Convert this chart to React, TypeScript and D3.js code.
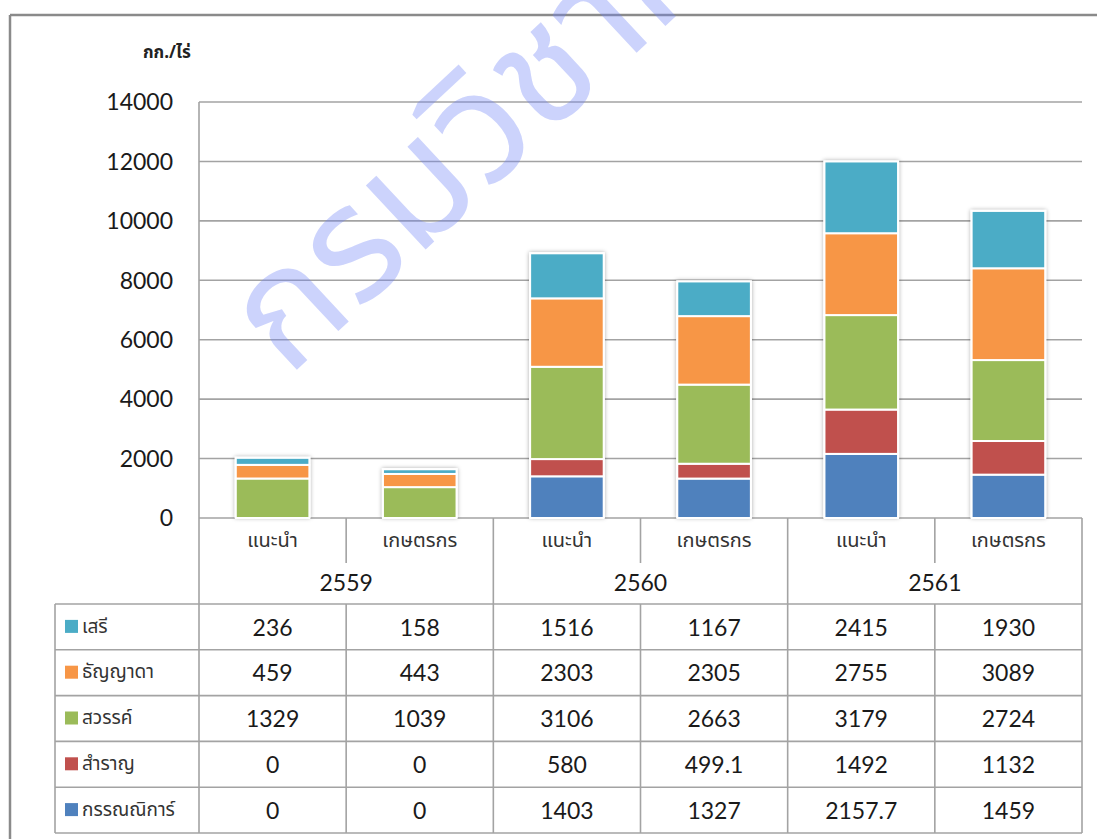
import React from "react";
import * as d3 from "d3";

const years = ["2559", "2560", "2561"];
const subLabels = ["แนะนำ", "เกษตรกร", "แนะนำ", "เกษตรกร", "แนะนำ", "เกษตรกร"];
// stacking order bottom -> top
const seriesNames = ["กรรณณิการ์", "สำราญ", "สวรรค์", "ธัญญาดา", "เสรี"];
const seriesColors = ["#4f81bd", "#c0504d", "#9bbb59", "#f79646", "#4bacc6"];
const kannikaValues = ["0", "0", "1403", "1327", "2157.7", "1459"];
const samranValues = ["0", "0", "580", "499.1", "1492", "1132"];
const sawanValues = ["1329", "1039", "3106", "2663", "3179", "2724"];
const thanyadaValues = ["459", "443", "2303", "2305", "2755", "3089"];
const seriValues = ["236", "158", "1516", "1167", "2415", "1930"];
const yTicks = [0, 2000, 4000, 6000, 8000, 10000, 12000, 14000];
const unitLabel = "กก./ไร่";
const watermark = "กรมวิชาการเกษตร";

const seriesValues = [kannikaValues, samranValues, sawanValues, thanyadaValues, seriValues];

const W = 1097;
const H = 839;
const plotL = 199;
const plotR = 1082;
const plotT = 102;
const plotB = 518;
const tableL = 55;
const row1B = 563;
const catB = 604;
const rowH = 45.8;

const NUM_FONT = "Lato, 'Open Sans', sans-serif";
const THAI_FONT = "Tahoma, 'Noto Sans Thai', 'Leelawadee UI', sans-serif";

export default function App() {
  const y = d3.scaleLinear().domain([0, 14000]).range([plotB, plotT]);
  const x = d3
    .scaleBand<number>()
    .domain(d3.range(subLabels.length))
    .range([plotL, plotR])
    .paddingInner(0.5)
    .paddingOuter(0.25);
  const step = x.step();

  const rows = subLabels.map((_, i) => {
    const o: any = { i };
    seriesNames.forEach((s, k) => (o[s] = +seriesValues[k][i]));
    return o;
  });
  const stack = d3.stack<any>().keys(seriesNames)(rows);
  const totals = rows.map((r) => d3.sum(seriesNames, (s) => r[s]));

  const gridColor = "#a3a3a3";
  const colEdges = d3.range(subLabels.length + 1).map((i) => plotL + i * step);
  const tableRows = seriesNames.slice().reverse();

  return (
    <div style={{ position: "absolute", left: 0, top: 0 }}>
      <svg width={W} height={H} style={{ display: "block", background: "#fff" }}>
        <defs>
          <filter id="shadow" x="-30%" y="-10%" width="160%" height="120%">
            <feDropShadow dx="0" dy="0" stdDeviation="2.2" floodColor="#000" floodOpacity="0.35" />
          </filter>
          <clipPath id="page">
            <rect x={0} y={0} width={W} height={H} />
          </clipPath>
        </defs>
        {/* frame */}
        <line x1={10} x2={W} y1={15} y2={15} stroke="#8a8a8a" strokeWidth={2.5} />
        <line x1={10} x2={10} y1={15} y2={H} stroke="#8a8a8a" strokeWidth={2.5} />

        {/* unit label */}
        <text x={143} y={58} fontFamily={THAI_FONT} fontWeight="bold" fontSize={17} fill="#222">
          {unitLabel}
        </text>

        {/* gridlines */}
        {yTicks.map((t) => (
          <g key={t}>
            <line x1={plotL} x2={plotR} y1={y(t)} y2={y(t)} stroke={gridColor} strokeWidth={1.6} />
            <text
              x={173}
              y={y(t)}
              dy="0.36em"
              textAnchor="end"
              fontFamily={NUM_FONT}
              fontSize={23}
              fill="#1a1a1a"
            >
              {t}
            </text>
          </g>
        ))}
        <line x1={plotL} x2={plotL} y1={plotT} y2={plotB} stroke={gridColor} strokeWidth={1.6} />

        {/* bars */}
        {rows.map((r, i) => {
          const x0 = x(i)!;
          const bw = x.bandwidth();
          const top = y(totals[i]);
          return (
            <g key={i}>
              <rect
                x={x0 - 1}
                y={top - 1}
                width={bw + 2}
                height={plotB - top + 1}
                fill="#fff"
                filter="url(#shadow)"
              />
              {stack.map((s, k) => {
                const d = s[i];
                const v = d[1] - d[0];
                if (v <= 0) return null;
                return (
                  <rect
                    key={k}
                    x={x0}
                    y={y(d[1])}
                    width={bw}
                    height={y(d[0]) - y(d[1])}
                    fill={seriesColors[k]}
                    stroke="#fff"
                    strokeWidth={2}
                  />
                );
              })}
            </g>
          );
        })}

        {/* category axis */}
        {colEdges.map((cx, i) => {
          const full = i % 2 === 0;
          return (
            <line
              key={i}
              x1={cx}
              x2={cx}
              y1={plotB}
              y2={full ? catB : row1B}
              stroke={gridColor}
              strokeWidth={1.6}
            />
          );
        })}
        {subLabels.map((l, i) => (
          <text
            key={i}
            x={x(i)! + x.bandwidth() / 2}
            y={547}
            textAnchor="middle"
            fontFamily={THAI_FONT}
            fontSize={20}
            fill="#333"
          >
            {l}
          </text>
        ))}
        {years.map((yr, j) => (
          <text
            key={yr}
            x={plotL + step * (2 * j + 1)}
            y={591}
            textAnchor="middle"
            fontFamily={NUM_FONT}
            fontSize={23}
            fill="#1a1a1a"
          >
            {yr}
          </text>
        ))}

        {/* data table */}
        {d3.range(tableRows.length + 1).map((r) => (
          <line
            key={"h" + r}
            x1={tableL}
            x2={plotR}
            y1={catB + r * rowH}
            y2={catB + r * rowH}
            stroke={gridColor}
            strokeWidth={1.6}
          />
        ))}
        {[tableL, ...colEdges].map((cx, i) => (
          <line
            key={"v" + i}
            x1={cx}
            x2={cx}
            y1={catB}
            y2={catB + tableRows.length * rowH}
            stroke={gridColor}
            strokeWidth={1.6}
          />
        ))}
        {tableRows.map((name, r) => {
          const k = seriesNames.indexOf(name);
          const cy = catB + r * rowH + rowH / 2;
          return (
            <g key={name}>
              <rect x={65} y={cy - 7} width={13} height={13} fill={seriesColors[k]} />
              <text x={82} y={cy} dy="0.3em" fontFamily={THAI_FONT} fontSize={19} fill="#333">
                {name}
              </text>
              {seriesValues[k].map((v, i) => (
                <text
                  key={i}
                  x={plotL + step * (i + 0.5)}
                  y={cy}
                  dy="0.38em"
                  textAnchor="middle"
                  fontFamily={NUM_FONT}
                  fontSize={23}
                  fill="#1a1a1a"
                >
                  {v}
                </text>
              ))}
            </g>
          );
        })}

        {/* watermark */}
        <g clipPath="url(#page)">
          <text
            x={0}
            y={0}
            transform="translate(288,378) rotate(-43)"
            fontFamily={THAI_FONT}
            fontSize={160}
            fill="rgb(110,130,245)"
            fillOpacity={0.35}
          >
            {watermark}
          </text>
        </g>
      </svg>
    </div>
  );
}
